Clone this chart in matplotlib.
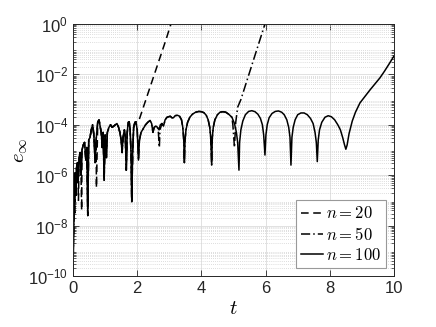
import numpy as np
import matplotlib
matplotlib.use("Agg")
import matplotlib.pyplot as plt
from matplotlib.ticker import LogLocator, NullFormatter

plt.rcParams['font.family'] = ['Liberation Sans', 'DejaVu Sans']
plt.rcParams['mathtext.fontset'] = 'custom'
plt.rcParams['mathtext.rm'] = 'Liberation Sans'
plt.rcParams['mathtext.it'] = 'Liberation Sans:italic'

# n = 100 : (t, log10 error)
t100 = [0.00, 0.03, 0.05, 0.07, 0.09, 0.11, 0.14, 0.16, 0.19, 0.22, 0.25, 0.28,
        0.32, 0.36, 0.40, 0.43, 0.46, 0.49, 0.53, 0.57, 0.61, 0.65, 0.69, 0.72,
        0.77, 0.81, 0.85, 0.88, 0.91, 0.94, 0.97, 1.00, 1.04, 1.07, 1.12, 1.17,
        1.22, 1.27, 1.32, 1.37, 1.42, 1.46, 1.50, 1.53, 1.56, 1.60, 1.63, 1.66,
        1.69, 1.72, 1.75, 1.78, 1.81, 1.83, 1.86, 1.89, 1.93, 1.96, 2.00, 2.04,
        2.07, 2.12, 2.19, 2.26, 2.33, 2.40, 2.45, 2.49, 2.53, 2.58, 2.63, 2.68,
        2.72, 2.77, 2.82, 2.87, 2.93, 2.98, 3.03, 3.08, 3.13, 3.18, 3.25, 3.32,
        3.38, 3.42, 3.45, 3.47, 3.49, 3.52, 3.57, 3.64, 3.72, 3.82, 3.92, 4.00,
        4.08, 4.15, 4.21, 4.26, 4.29, 4.32, 4.34, 4.37, 4.42, 4.50, 4.58, 4.67,
        4.76, 4.85, 4.95, 5.03, 5.09, 5.13, 5.17, 5.19, 5.23, 5.29, 5.37, 5.47,
        5.57, 5.67, 5.76, 5.84, 5.90, 5.94, 5.98, 6.01, 6.05, 6.11, 6.20, 6.30,
        6.40, 6.50, 6.58, 6.66, 6.72, 6.76, 6.79, 6.82, 6.86, 6.92, 7.00, 7.10,
        7.20, 7.30, 7.40, 7.48, 7.54, 7.58, 7.61, 7.64, 7.68, 7.75, 7.85, 7.95,
        8.05, 8.15, 8.25, 8.33, 8.40, 8.46, 8.50, 8.54, 8.60, 8.70, 8.80, 8.94,
        9.10, 9.25, 9.40, 9.56, 9.70, 9.85, 10.00]
e100 = [-9.8, -7.5, -6.2, -5.9, -6.8, -5.7, -5.5, -6.3, -5.3, -5.1, -6.0, -5.0,
        -4.8, -4.7, -5.4, -4.9, -7.6, -4.6, -4.5, -4.2, -4.0, -4.4, -5.5, -4.6,
        -3.9, -3.8, -4.1, -4.3, -4.9, -4.3, -6.2, -4.4, -5.3, -4.3, -4.1, -4.0,
        -4.1, -4.05, -4.0, -3.95, -4.1, -4.3, -4.6, -5.1, -4.5, -4.2, -4.5, -5.8,
        -4.3, -3.9, -3.88, -4.2, -5.2, -7.05, -5.0, -4.1, -3.9, -3.88, -4.2, -5.4,
        -4.6, -4.3, -4.15, -4.0, -3.9, -3.83, -3.95, -4.3, -4.1, -4.05, -4.1, -4.2,
        -4.0, -3.95, -4.05, -3.8, -3.7, -3.68, -3.66, -3.72, -3.72, -3.64, -3.62, -3.66,
        -3.8, -4.1, -4.6, -5.5, -4.6, -4.2, -3.9, -3.7, -3.58, -3.5, -3.47, -3.48,
        -3.52, -3.62, -3.8, -4.1, -4.5, -5.6, -4.5, -4.1, -3.8, -3.6, -3.5, -3.48,
        -3.5, -3.58, -3.7, -3.95, -4.3, -4.7, -5.8, -4.7, -4.2, -3.85, -3.6, -3.47,
        -3.44, -3.48, -3.58, -3.75, -4.0, -4.4, -5.2, -4.4, -4.0, -3.72, -3.55, -3.47,
        -3.45, -3.5, -3.6, -3.8, -4.1, -4.5, -5.6, -4.5, -4.1, -3.8, -3.6, -3.53,
        -3.53, -3.6, -3.75, -3.95, -4.3, -4.7, -5.46, -4.6, -4.2, -3.9, -3.7, -3.64,
        -3.68, -3.8, -4.0, -4.2, -4.5, -4.8, -4.97, -4.8, -4.35, -3.85, -3.5, -3.13,
        -2.87, -2.62, -2.39, -2.14, -1.88, -1.58, -1.27]

# n = 20 : extra early dips and blow-up tail
t20_extra = [0.06, 0.17, 0.27, 0.73]
e20_extra = [-7.5, -7.0, -7.4, -6.5]
t20_tail = [1.96, 2.04, 2.30, 2.60, 2.90, 3.05, 3.12]
e20_tail = [-3.88, -3.88, -2.89, -1.75, -0.61, 0.0, 0.3]

# n = 50 : differing dip near t=2.7 and blow-up tail
t50_extra = [2.66, 2.69, 2.71]
e50_extra = [-4.3, -4.9, -4.2]
t50_tail = [4.98, 5.03, 5.07, 5.13, 5.23, 5.40, 5.60, 5.80, 5.98, 6.05]
e50_tail = [-4.0, -4.9, -3.9, -3.3, -3.0, -2.32, -1.52, -0.72, 0.0, 0.3]

t100a = np.array(t100)
e100a = np.array(e100)

# assemble n=20
m = t100a < 1.95
t20 = np.concatenate([t100a[m], t20_extra])
e20 = np.concatenate([e100a[m], e20_extra])
o = np.argsort(t20)
t20 = np.concatenate([t20[o], t20_tail])
e20 = np.concatenate([e20[o], e20_tail])

# assemble n=50
m = (t100a < 4.96) & ((t100a < 2.64) | (t100a > 2.73))
t50 = np.concatenate([t100a[m], t50_extra])
e50 = np.concatenate([e100a[m], e50_extra])
o = np.argsort(t50)
t50 = np.concatenate([t50[o], t50_tail])
e50 = np.concatenate([e50[o], e50_tail])

fig = plt.figure(figsize=(4.36, 3.27), dpi=100)
ax = fig.add_axes([73/436, 1-276/327, (394-73)/436, (276-24)/327])

ax.plot(t20, 10**e20, color='k', lw=1.1, ls=(0, (5, 3)), label='$n = 20$')
ax.plot(t50, 10**e50, color='k', lw=1.1, ls=(0, (6, 2, 1, 2)), label='$n = 50$')
ax.plot(t100a, 10**e100a, color='k', lw=1.1, ls='-', label='$n = 100$')

ax.set_yscale('log')
ax.set_xlim(0, 10)
ax.set_ylim(1e-10, 1)
ax.set_xticks([0, 2, 4, 6, 8, 10])
ax.set_yticks([1e-10, 1e-8, 1e-6, 1e-4, 1e-2, 1e0])
ax.set_yticklabels(['$10^{-10}$', '$10^{-8}$', '$10^{-6}$', '$10^{-4}$', '$10^{-2}$', '$10^{0}$'])
ax.yaxis.set_minor_locator(LogLocator(base=10, subs=np.arange(2, 10), numticks=50))
ax.yaxis.set_minor_formatter(NullFormatter())

ax.tick_params(axis='both', which='both', direction='in', top=True, right=True,
               labelsize=12, colors='#262626')
ax.tick_params(which='major', length=4, width=0.6)
ax.tick_params(which='minor', length=2, width=0.5)
for s in ax.spines.values():
    s.set_color('#262626')
    s.set_linewidth(0.7)

ax.grid(True, which='major', color='#dcdcdc', lw=0.6, ls='-')
ax.grid(True, which='minor', axis='y', color='#d2d2d2', lw=0.6, ls=(0, (1, 1.5)))
ax.set_axisbelow(True)

ax.set_xlabel('$t$', fontsize=15, math_fontfamily='cm', labelpad=2)
ax.set_ylabel(r'$e_\infty$', fontsize=15, math_fontfamily='cm', labelpad=-1)

leg = ax.legend(loc='lower right', prop={'size': 12, 'math_fontfamily': 'cm'},
                fancybox=False, framealpha=1, edgecolor='#999999',
                handlelength=1.35, handletextpad=0.15, labelspacing=0.25,
                borderpad=0.3, borderaxespad=0.5)
leg.get_frame().set_linewidth(0.8)

fig.savefig('out.png', dpi=100)
